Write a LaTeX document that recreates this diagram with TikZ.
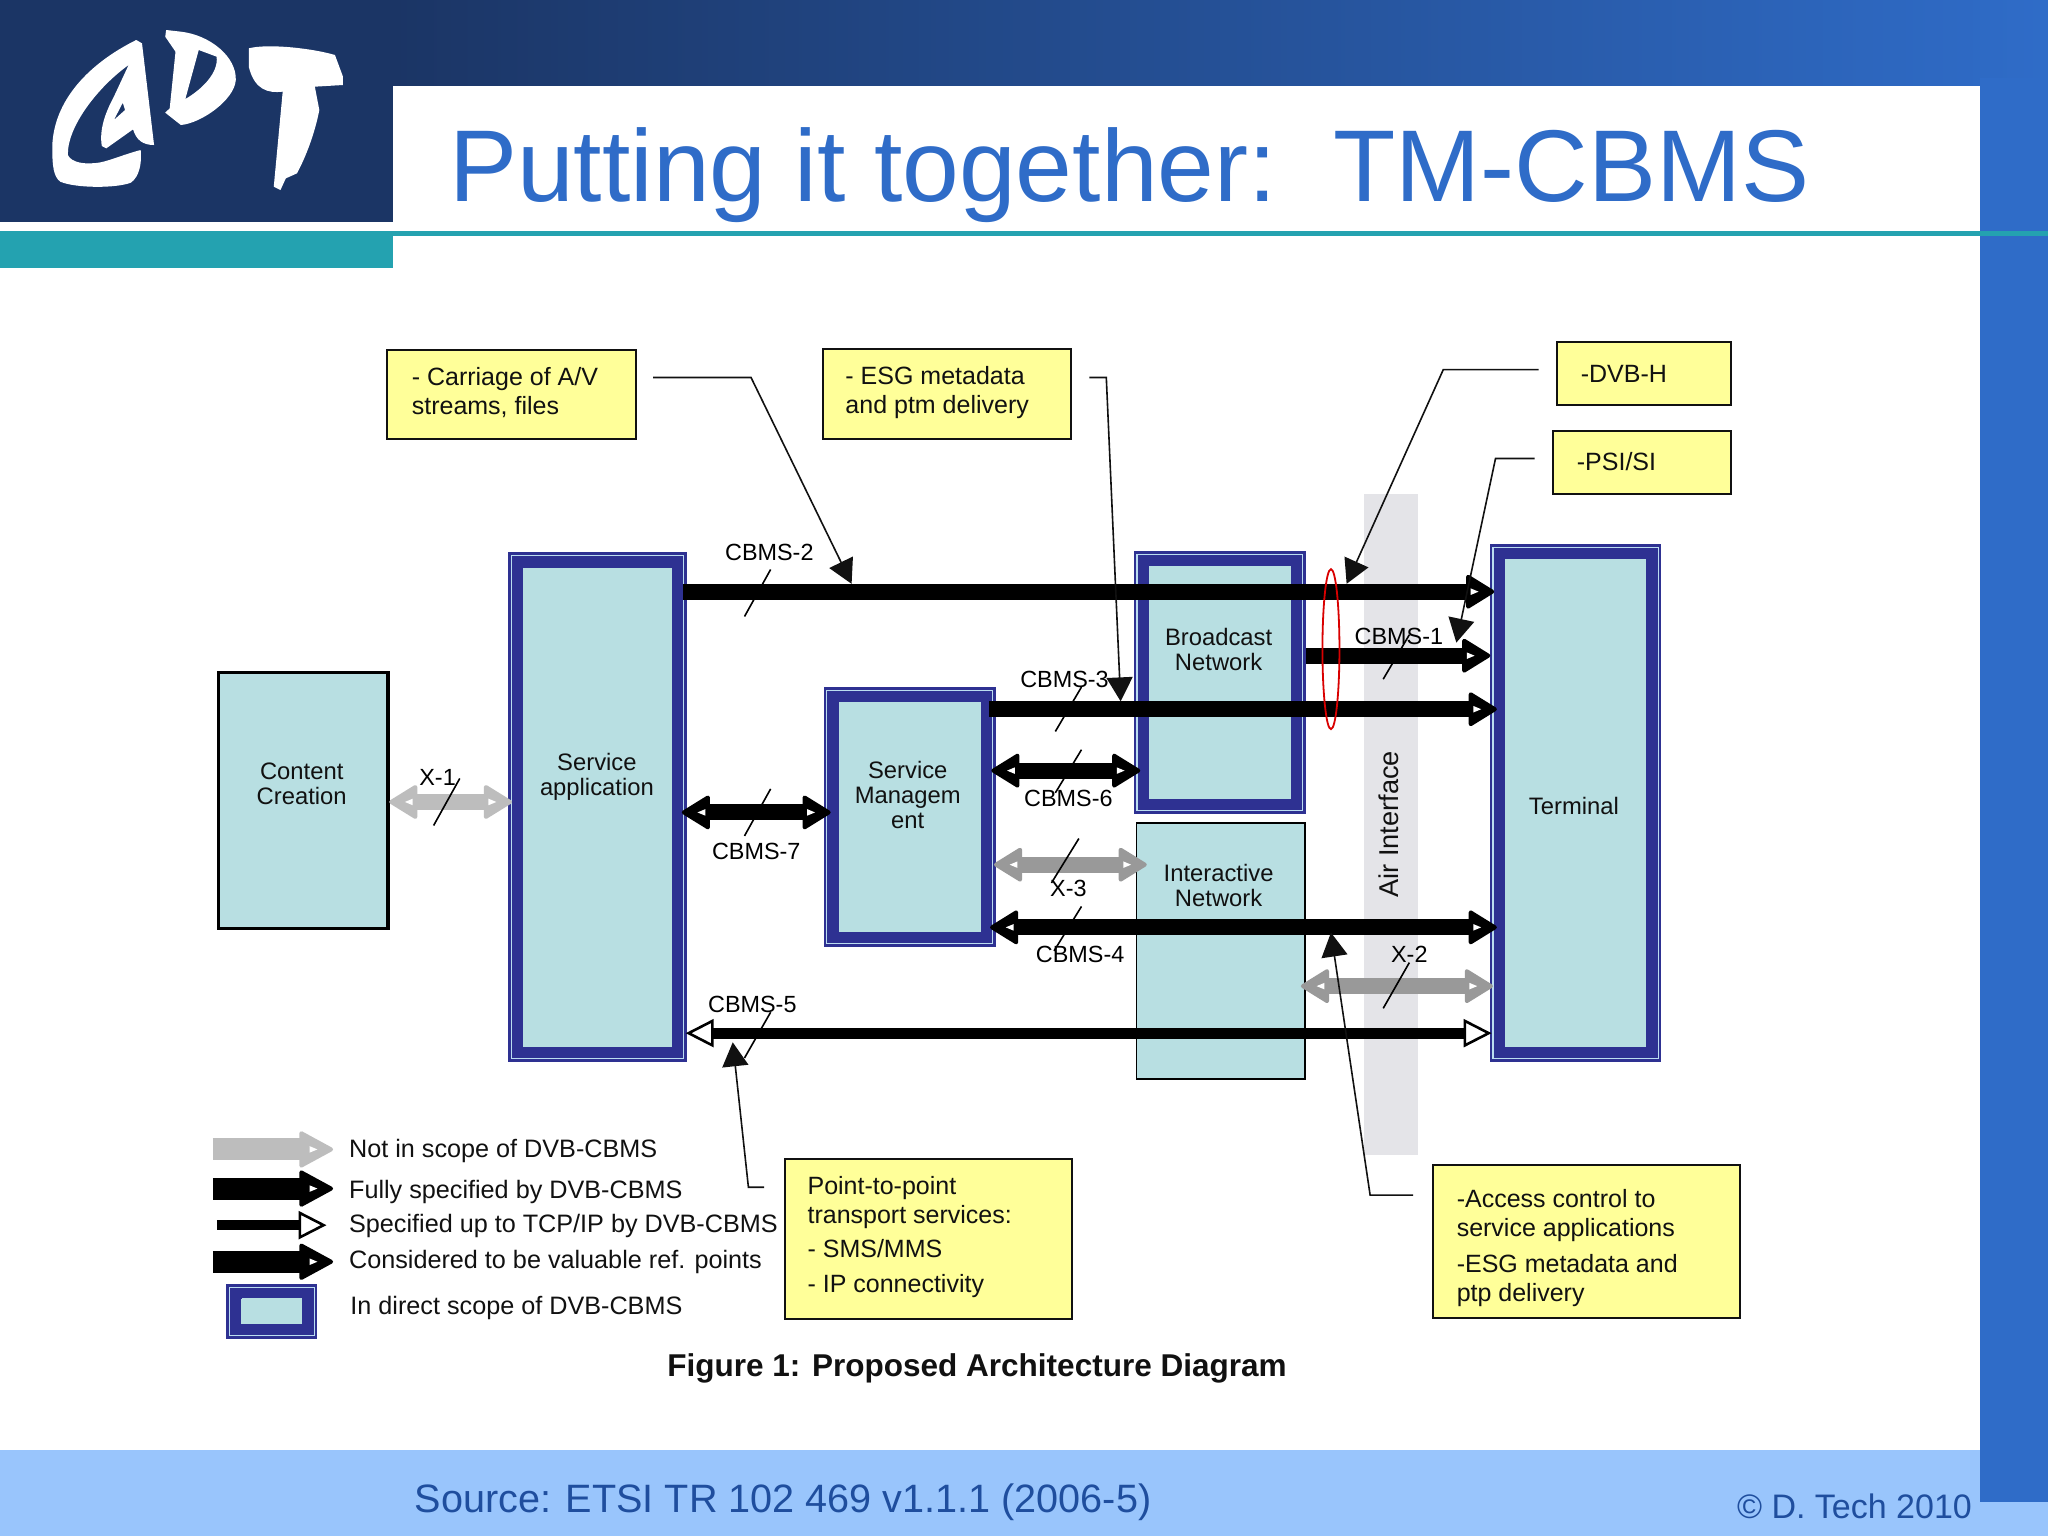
\documentclass[tikz,border=0pt]{standalone}
\usepackage{fontspec}
\setmainfont{Liberation Sans}
\usetikzlibrary{arrows.meta,fit,shapes.geometric}
\definecolor{navy}{HTML}{1B3565}
\definecolor{topblue}{HTML}{2F6CC8}
\definecolor{tealbar}{HTML}{24A2B0}
\definecolor{footblue}{HTML}{99C5FC}
\definecolor{footink}{HTML}{1F4E9E}
\definecolor{boxblue}{HTML}{2E3192}
\definecolor{boxteal}{HTML}{B8DFE2}
\definecolor{boxline}{HTML}{BBDDF0}
\definecolor{note}{HTML}{FFFF99}
\definecolor{airgray}{HTML}{E4E4E8}
\definecolor{ink}{HTML}{111111}
\definecolor{lgray}{HTML}{BDBDBD}
\definecolor{mgray}{HTML}{999999}
\tikzset{
  fitbox/.style={inner sep=0pt,outer sep=0pt,line width=0pt,rectangle},
  outerb/.style={fitbox,fill=boxblue},
  innerb/.style={fitbox,fill=boxteal},
  lightb/.style={fitbox,draw=boxline,line width=0.6pt},
  plainb/.style={fitbox,fill=boxteal,draw=black},
  notebox/.style={fitbox,fill=note,draw=ink,line width=1pt},
  boxtext/.style={align=center,inner sep=0pt,text=ink,font=\fontsize{11.9}{12.4}\selectfont},
  notetext/.style={align=left,anchor=west,inner sep=0pt,text=ink,font=\fontsize{12.5}{14.4}\selectfont},
  legtext/.style={anchor=west,inner sep=0pt,text=ink,font=\fontsize{12.6}{14.4}\selectfont},
  reflabel/.style={inner sep=0pt,text=black,font=\fontsize{11.7}{13}\selectfont},
  link/.style={line width=8pt,draw=black,-{Triangle[length=15pt,width=18pt,line width=2pt,round]}},
  dlink/.style={line width=8pt,draw=black,{Triangle[length=15pt,width=18pt,line width=2pt,round]}-{Triangle[length=15pt,width=18pt,line width=2pt,round]}},
  openlink/.style={line width=5.6pt,draw=black,{Triangle[open,fill=white,length=14pt,width=14pt,line width=1.3pt]}-{Triangle[open,fill=white,length=14pt,width=14pt,line width=1.3pt]}},
  leader/.style={line width=0.8pt,draw=ink,-{Triangle[length=12pt,width=13pt]}},
  tick/.style={line width=0.8pt,draw=black},
  legarrow/.style={line width=11pt,-{Triangle[length=18pt,width=19pt,line width=2pt,round]}},
  nick/.style={draw=white,line width=0.7pt,dash pattern=on 5pt off 4pt},
}
\newcommand{\dvbbox}[5]{%
  \node[outerb,fit={(#2,#3)(#4,#5)}] (#1) {};
  \node[lightb,fit={({#2+2.5},{#3+2.5})({#4-2.5},{#5-2.5})}] (#1-line) {};
  \node[innerb,fit={({#2+11.5},{#3+11.5})({#4-11.5},{#5-11.5})}] (#1-in) {};
}
\newcommand{\rdot}[2]{\fill[white] ({#1-18},{#2-2.5}) -- ({#1-12},#2) -- ({#1-18},{#2+2.5}) -- cycle;}
\newcommand{\ldot}[2]{\fill[white] ({#1+18},{#2-2.5}) -- ({#1+12},#2) -- ({#1+18},{#2+2.5}) -- cycle;}
\begin{document}
\begin{tikzpicture}[x=0.65306pt,y=-0.65306pt]
\useasboundingbox (0,0) rectangle (1568,1176);
% slide frame
\fill[white] (0,0) rectangle (1568,1176);
\shade[left color=navy,right color=topblue,shading=axis,shading angle=90] (300,0) rectangle (1568,66);
\fill[topblue] (1516,60) rectangle (1568,1150);
\fill[white] (301,66) rectangle (1516,176);
\fill[navy] (0,0) rectangle (301,170);
\fill[tealbar] (0,176.5) rectangle (1568,181);
\fill[tealbar] (0,176.5) rectangle (301,205);
\fill[footblue] (0,1110) rectangle (1516,1176);
\fill[footblue] (1516,1150) rectangle (1568,1176);
% logo
\begin{scope}[x=0.2233pt,y=-0.16668pt]
\fill[white,even odd rule] (305,120) .. controls (200,190) and (120,300) .. (117,440) .. controls (117,500) and (120,530) .. (135,545) .. controls (170,565) and (260,565) .. (293,548) .. controls (312,530) and (318,490) .. (315,450) .. controls (280,462) and (250,480) .. (225,487) .. controls (190,495) and (160,488) .. (152,465) .. controls (150,380) and (220,260) .. (288,195) -- (255,290) .. controls (235,340) and (222,390) .. (228,438) -- (238,445) -- (298,388) .. controls (305,420) and (320,435) .. (345,435) -- (318,130) -- cycle
 (275,308) -- (280,330) -- (255,360) -- cycle;
\fill[white,even odd rule] (372,90) -- (405,95) .. controls (470,105) and (530,170) .. (528,240) .. controls (525,300) and (450,370) .. (405,375) -- (370,338) -- (380,325) -- (393,155) -- (370,110) -- cycle
 (445,150) -- (485,170) .. controls (490,220) and (450,270) .. (415,297) -- cycle;
\fill[white] (557,145) .. controls (600,130) and (700,145) .. (750,165) -- (768,230) -- (768,255) -- (705,260) -- (715,330) .. controls (705,400) and (685,470) .. (665,520) -- (640,535) -- (628,570) -- (613,560) -- (633,275) .. controls (600,280) and (570,270) .. (557,200) -- cycle;
\end{scope}
% title and footer
\node[anchor=base west,inner sep=0pt,text=topblue,font=\fontsize{51}{55}\selectfont] (title) at (343.5,154.5) {Putting it together:\ \ TM-CBMS};
\node[anchor=center,inner sep=0pt,text=footink,font=\fontsize{19.8}{24}\selectfont] (source) at (599.5,1150) {Source: ETSI TR 102 469 v1.1.1 (2006-5)};
\node[anchor=east,inner sep=0pt,text=footink,font=\fontsize{17}{20}\selectfont] (copy) at (1510,1153) {© D. Tech 2010};
% air interface
\node[fitbox,fill=airgray,fit={(1044,378)(1086,884)}] (air) {};
% boxes
\node[plainb,line width=1.6pt,fit={(167,515)(297,711)}] (cc) {};
\dvbbox{sa}{389}{423}{526}{813}
\dvbbox{sm}{630.5}{526}{762.5}{725}
\dvbbox{bn}{868}{422}{1000}{623}
\dvbbox{tm}{1140.6}{416.6}{1272}{813}
\node[plainb,line width=0.8pt,fit={(870,630)(999,826)}] (in) {};
\node[boxtext] (cct) at (231,600) {Content\\Creation};
\node[boxtext] (sat) at (457,595) {Service\\application};
\node[boxtext] (smt) at (695,608.5) {Service\\Managem\\ent};
\node[boxtext] (bnt) at (933,497) {Broadcast\\Network};
\node[boxtext] (int) at (933,678) {Interactive\\Network};
\node[boxtext] (tmt) at (1205,617) {Terminal};
\node[boxtext,rotate=90,font=\fontsize{13.6}{15}\selectfont] (airt) at (1063,631) {Air Interface};
% connector end points
\coordinate (c2a) at (523,453); \coordinate (c2b) at (1144,453);
\coordinate (c1a) at (1000,502); \coordinate (c1b) at (1141,502);
\coordinate (c3a) at (757,543); \coordinate (c3b) at (1146,543);
\coordinate (c6a) at (759,590); \coordinate (c6b) at (873,590);
\coordinate (c7a) at (522,622); \coordinate (c7b) at (636,622);
\coordinate (x1a) at (298,614); \coordinate (x1b) at (392,614);
\coordinate (x3a) at (761,662); \coordinate (x3b) at (878,662);
\coordinate (c4a) at (758,710); \coordinate (c4b) at (1146,710);
\coordinate (x2a) at (996,755); \coordinate (x2b) at (1143,755);
\coordinate (c5a) at (525,791); \coordinate (c5b) at (1142,791);
% connectors
\draw[link] (c2a) -- (c2b);
\draw[link] (c1a) -- (c1b);
\draw[link] (c3a) -- (c3b);
\draw[dlink] (c6a) -- (c6b);
\draw[nick] (785,584) -- (848,584);
\draw[dlink] (c7a) -- (c7b);
\draw[nick] (548,628) -- (610,628);
\draw[dlink,draw=lgray,color=lgray] (x1a) -- (x1b);
\draw[dlink,draw=mgray,color=mgray] (x3a) -- (x3b);
\draw[dlink] (c4a) -- (c4b);
\draw[dlink,draw=mgray,color=mgray] (x2a) -- (x2b);
\draw[openlink] (c5a) -- (c5b);
\foreach \p/\q in {1144/453,1141/502,1146/543,873/590,636/622,392/614,878/662,1146/710,1143/755} {\rdot{\p}{\q}}
\foreach \p/\q in {759/590,522/622,298/614,761/662,758/710,996/755} {\ldot{\p}{\q}}
% red ellipse
\node[ellipse,draw=red!85!black,line width=0.9pt,inner sep=0pt,minimum width=8.5pt,minimum height=80pt] (redring) at (1019,497) {};
% ticks and reference labels
\draw[tick] (570,472) -- (590,436);
\draw[tick] (1059,520) -- (1079,486);
\draw[tick] (808,560) -- (828,526);
\draw[tick] (808,607) -- (828,574);
\draw[tick] (570,640) -- (590,604);
\draw[tick] (332,632) -- (352,596);
\draw[tick] (805,676) -- (826,642);
\draw[tick] (807,728) -- (828,694);
\draw[tick] (1059,772) -- (1079,737);
\draw[tick] (570,810) -- (590,775);
\node[reflabel] (l2) at (589,423) {CBMS-2};
\node[reflabel] (l1) at (1071,487) {CBMS-1};
\node[reflabel] (l3) at (815,520) {CBMS-3};
\node[reflabel] (l6) at (818,611) {CBMS-6};
\node[reflabel] (l7) at (579,652) {CBMS-7};
\node[reflabel] (lx1) at (335,595) {X-1};
\node[reflabel] (lx3) at (818,680) {X-3};
\node[reflabel] (l4) at (827,731) {CBMS-4};
\node[reflabel] (lx2) at (1079,731) {X-2};
\node[reflabel] (l5) at (576,769) {CBMS-5};
% callouts
\node[notebox,fit={(296,268)(487,336)}] (na) {};
\node[notetext] (nat) at (315,300.5) {- Carriage of A/V\\streams, files};
\node[notebox,fit={(630,267)(820,336)}] (nb) {};
\node[notetext] (nbt) at (647,300.5) {- ESG metadata\\and ptm delivery};
\node[notebox,fit={(1192,262)(1325,310)}] (nc) {};
\node[notetext] (nct) at (1210,286.5) {-DVB-H};
\node[notebox,fit={(1189,330)(1325,378)}] (nd) {};
\node[notetext] (ndt) at (1207,353.5) {-PSI/SI};
\node[notebox,fit={(601,887)(821,1010)}] (ne) {};
\node[notetext] (net) at (618,947) {Point-to-point\\transport services:\\[2.5pt]- SMS/MMS\\[3pt]- IP connectivity};
\node[notebox,fit={(1097,892)(1332,1009)}] (nf) {};
\node[notetext] (nft) at (1115,955.5) {-Access control to\\service applications\\[3.5pt]-ESG metadata and\\ptp delivery};
% leaders
\coordinate (la0) at (500,289); \coordinate (la1) at (575,289); \coordinate (la2) at (652,447);
\coordinate (lb0) at (834,289); \coordinate (lb1) at (847,289); \coordinate (lb2) at (858,537);
\coordinate (lc0) at (1178,283); \coordinate (lc1) at (1105,283); \coordinate (lc2) at (1031,447);
\coordinate (ld0) at (1175,351); \coordinate (ld1) at (1145,351); \coordinate (ld2) at (1115,492);
\coordinate (le0) at (585,909); \coordinate (le1) at (573,909); \coordinate (le2) at (561,798);
\coordinate (lf0) at (1082,915); \coordinate (lf1) at (1049,915); \coordinate (lf2) at (1019,714);
\draw[leader] (la0) -- (la1) -- (la2);
\draw[leader] (lb0) -- (lb1) -- (lb2);
\draw[leader] (lc0) -- (lc1) -- (lc2);
\draw[leader] (ld0) -- (ld1) -- (ld2);
\draw[leader] (le0) -- (le1) -- (le2);
\draw[leader] (lf0) -- (lf1) -- (lf2);
% legend
\coordinate (k1a) at (163,880); \coordinate (k1b) at (255,880);
\coordinate (k2a) at (163,910); \coordinate (k2b) at (255,910);
\coordinate (k3a) at (166,938); \coordinate (k3b) at (250,938);
\coordinate (k4a) at (163,966); \coordinate (k4b) at (255,966);
\draw[legarrow,draw=lgray,color=lgray] (k1a) -- (k1b);
\draw[legarrow,draw=black,color=black] (k2a) -- (k2b);
\draw[line width=5pt,draw=black,-{Triangle[open,fill=white,length=14pt,width=14pt,line width=1.3pt]}] (k3a) -- (k3b);
\draw[legarrow,draw=black,color=black] (k4a) -- (k4b);
\draw[nick] (168,957) -- (222,957);
\rdot{255}{880}\rdot{255}{910}\rdot{255}{966}
\dvbbox{kb}{173}{983}{243}{1025}
\node[innerb,fit={(185,994)(231,1014)}] (kbi) {};
\node[legtext] (k1t) at (267,881.5) {Not in scope of DVB-CBMS};
\node[legtext] (k2t) at (267,912.5) {Fully specified by DVB-CBMS};
\node[legtext] (k3t) at (267,938.5) {Specified up to TCP/IP by DVB-CBMS};
\node[legtext] (k4t) at (267,966.5) {Considered to be valuable ref. points};
\node[legtext] (k5t) at (268,1001.5) {In direct scope of DVB-CBMS};
\node[inner sep=0pt,text=ink,font=\bfseries\fontsize{15.76}{18}\selectfont] (cap) at (748,1048) {Figure 1: Proposed Architecture Diagram};
\end{tikzpicture}
\end{document}
